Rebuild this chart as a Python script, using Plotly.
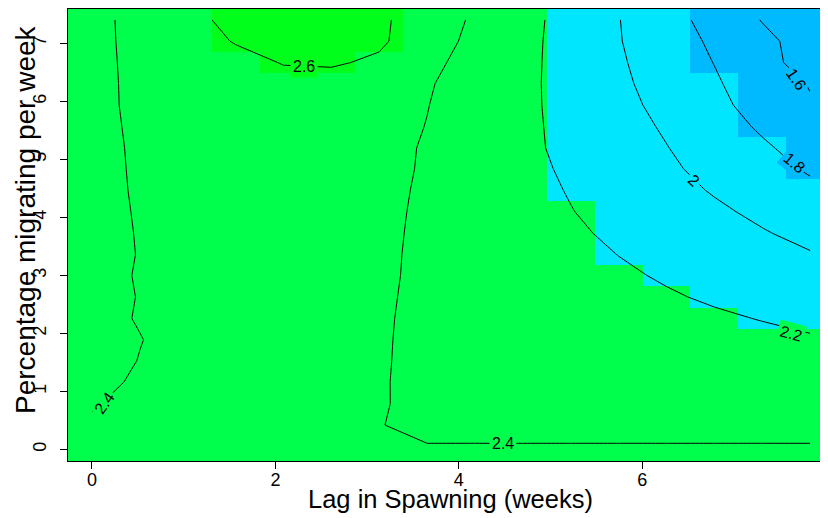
import plotly.graph_objects as go

# Grid of lag (weeks) and percentage migrating per week
lag_weeks = [0.0, 0.522, 1.044, 1.566, 2.088, 2.61, 3.132, 3.654, 4.176, 4.698,
             5.22, 5.742, 6.264, 6.786, 7.308, 7.83]
pct_migrating = [0.054, 0.42, 0.79, 1.16, 1.53, 1.89, 2.26, 2.63, 3.0, 3.36, 3.73,
                 4.10, 4.47, 4.84, 5.20, 5.57, 5.94, 6.31, 6.67, 7.04, 7.41]

# Response surface values (rows = pct_migrating, cols = lag_weeks)
row_00 = [2.41, 2.415, 2.418, 2.42, 2.42, 2.418, 2.41, 2.4036, 2.4046, 2.4052, 2.4057, 2.4062, 2.4065, 2.4068, 2.4072, 2.4073]
row_01 = [2.405, 2.415, 2.418, 2.419, 2.418, 2.415, 2.403, 2.378, 2.372, 2.368, 2.365, 2.362, 2.36, 2.358, 2.356, 2.355]
row_02 = [2.397, 2.412, 2.416, 2.418, 2.418, 2.415, 2.403, 2.39, 2.384, 2.377, 2.371, 2.366, 2.361, 2.357, 2.353, 2.35]
row_03 = [2.39, 2.405, 2.412, 2.417, 2.418, 2.416, 2.405, 2.383, 2.375, 2.367, 2.359, 2.351, 2.343, 2.335, 2.328, 2.32]
row_04 = [2.385, 2.401, 2.41, 2.417, 2.42, 2.417, 2.406, 2.383, 2.371, 2.358, 2.346, 2.334, 2.322, 2.31, 2.297, 2.285]
row_05 = [2.385, 2.399, 2.412, 2.42, 2.423, 2.42, 2.408, 2.38, 2.364, 2.343, 2.322, 2.30, 2.279, 2.258, 2.237, 2.215]
row_06 = [2.39, 2.402, 2.417, 2.425, 2.427, 2.423, 2.41, 2.379, 2.355, 2.328, 2.302, 2.275, 2.248, 2.221, 2.194, 2.165]
row_07 = [2.39, 2.401, 2.416, 2.425, 2.428, 2.424, 2.413, 2.379, 2.347, 2.314, 2.281, 2.248, 2.215, 2.181, 2.147, 2.114]
row_08 = [2.39, 2.402, 2.418, 2.428, 2.432, 2.427, 2.416, 2.38, 2.339, 2.30, 2.262, 2.223, 2.184, 2.145, 2.105, 2.066]
row_09 = [2.39, 2.401, 2.415, 2.427, 2.433, 2.428, 2.418, 2.38, 2.333, 2.288, 2.243, 2.198, 2.151, 2.104, 2.057, 2.010]
row_10 = [2.39, 2.4015, 2.42, 2.433, 2.44, 2.435, 2.425, 2.377, 2.326, 2.275, 2.224, 2.172, 2.118, 2.064, 2.011, 1.957]
row_11 = [2.39, 2.4023, 2.425, 2.44, 2.447, 2.442, 2.43, 2.378, 2.32, 2.263, 2.205, 2.146, 2.087, 2.027, 1.967, 1.904]
row_12 = [2.393, 2.4023, 2.43, 2.447, 2.455, 2.45, 2.437, 2.38, 2.317, 2.254, 2.19, 2.122, 2.055, 1.987, 1.913, 1.84]
row_13 = [2.39, 2.404, 2.435, 2.455, 2.465, 2.46, 2.445, 2.384, 2.314, 2.245, 2.174, 2.101, 2.028, 1.949, 1.863, 1.779]
row_14 = [2.385, 2.407, 2.44, 2.465, 2.48, 2.475, 2.45, 2.386, 2.311, 2.236, 2.16, 2.083, 2.005, 1.915, 1.824, 1.732]
row_15 = [2.38, 2.412, 2.45, 2.48, 2.50, 2.49, 2.46, 2.396, 2.316, 2.236, 2.153, 2.068, 1.98, 1.88, 1.776, 1.661]
row_16 = [2.375, 2.419, 2.456, 2.49, 2.515, 2.505, 2.455, 2.404, 2.322, 2.236, 2.145, 2.051, 1.95, 1.844, 1.732, 1.617]
row_17 = [2.37, 2.424, 2.463, 2.506, 2.55, 2.53, 2.472, 2.414, 2.33, 2.238, 2.139, 2.034, 1.927, 1.82, 1.705, 1.589]
row_18 = [2.365, 2.431, 2.488, 2.547, 2.607, 2.62, 2.57, 2.44, 2.342, 2.243, 2.135, 2.021, 1.909, 1.796, 1.66, 1.525]
row_19 = [2.358, 2.442, 2.525, 2.61, 2.645, 2.645, 2.63, 2.481, 2.357, 2.249, 2.132, 2.009, 1.89, 1.77, 1.646, 1.52]
row_20 = [2.35, 2.454, 2.559, 2.64, 2.67, 2.66, 2.633, 2.503, 2.375, 2.257, 2.133, 2.005, 1.87, 1.733, 1.592, 1.45]

z = [row_00, row_01, row_02, row_03, row_04, row_05, row_06, row_07, row_08, row_09, row_10,
     row_11, row_12, row_13, row_14, row_15, row_16, row_17, row_18, row_19, row_20]

x_ticks = [0, 2, 4, 6, 8]
y_ticks = [0, 1, 2, 3, 4, 5, 6, 7]
contour_levels = [1.6, 1.8, 2.0, 2.2, 2.4, 2.6]

# colour classes (breaks 1.8 / 2.2 / 2.6)
c_blue, c_cyan, c_green, c_lime = "#00BAFF", "#00E6FF", "#00FF4D", "#00FF1A"
colorscale = [[0.0, c_blue], [0.25, c_blue], [0.25, c_cyan], [0.5, c_cyan],
              [0.5, c_green], [0.75, c_green], [0.75, c_lime], [1.0, c_lime]]

y_lo = -0.2
half_top = (pct_migrating[-1] - pct_migrating[-2]) / 2
y_edges = [y_lo] + [(a + b) / 2 for a, b in zip(pct_migrating[:-1], pct_migrating[1:])] + [pct_migrating[-1] + half_top]
x_half = (lag_weeks[1] - lag_weeks[0]) / 2

font = "Liberation Sans, Arial, Helvetica, sans-serif"

fig = go.Figure()
fig.add_trace(go.Heatmap(x=lag_weeks, y=y_edges, z=z, zmin=1.4, zmax=3.0,
                         colorscale=colorscale, showscale=False, hoverinfo="skip"))
fig.add_trace(go.Contour(x=lag_weeks, y=pct_migrating, z=z,
                         contours=dict(start=contour_levels[0], end=contour_levels[-1],
                                       size=0.2, coloring="none", showlabels=False),
                         line=dict(color="black", width=1, smoothing=0),
                         showscale=False, hoverinfo="skip"))

# contour labels (placed like R's contour labels, with a gap in the line)
label_specs = [  # level, x, y, angle, background
    (2.6, 2.31, 6.61, 0, c_lime),
    (1.6, 7.68, 6.38, 55, c_blue),
    (1.8, 7.65, 4.94, 40, c_blue),
    (2.0, 6.56, 4.63, 42, c_cyan),
    (2.2, 7.62, 2.00, 15, c_green),
    (2.4, 4.48, 0.105, 0, c_green),
    (2.4, 0.13, 0.80, -55, c_green),
]
annotations = []
for lvl, lx, ly, ang, bg in label_specs:
    annotations.append(dict(x=lx, y=ly, xref="x", yref="y", text="{:g}".format(lvl),
                            showarrow=False, textangle=ang, bgcolor=bg, borderpad=2,
                            font=dict(size=16, color="black", family=font),
                            xanchor="center", yanchor="middle"))

# axis titles
annotations.append(dict(x=0.5, y=0, xref="paper", yref="paper", xshift=2, yshift=-38,
                        text="Lag in Spawning (weeks)", showarrow=False,
                        xanchor="center", yanchor="middle",
                        font=dict(size=25.5, color="black", family=font)))
annotations.append(dict(x=0, y=0.5, xref="paper", yref="paper", xshift=-43, yshift=15,
                        text="Percentage migrating per week", showarrow=False, textangle=-90,
                        xanchor="center", yanchor="middle",
                        font=dict(size=28, color="black", family=font)))

fig.update_layout(
    width=820, height=510,
    margin=dict(l=60, r=0, t=1, b=57),
    paper_bgcolor="white", plot_bgcolor="white",
    font=dict(family=font, color="black"),
    showlegend=False,
    annotations=annotations,
    xaxis=dict(range=[lag_weeks[0] - x_half, 8.024], tickvals=x_ticks, ticks="outside",
               ticklen=7, tickcolor="black", tickfont=dict(size=18),
               ticklabelstandoff=-5, ticklabeloverflow="allow",
               showline=True, linecolor="black", linewidth=1, mirror=True,
               showgrid=False, zeroline=False, automargin=False),
    yaxis=dict(range=[y_lo, y_edges[-1]], tickvals=y_ticks, ticks="outside",
               ticklen=7, tickcolor="black", tickfont=dict(size=18), tickangle=-90,
               ticklabelstandoff=7,
               showline=True, linecolor="black", linewidth=1, mirror=False,
               showgrid=False, zeroline=False, automargin=False),
)

fig.write_html("out.html")
